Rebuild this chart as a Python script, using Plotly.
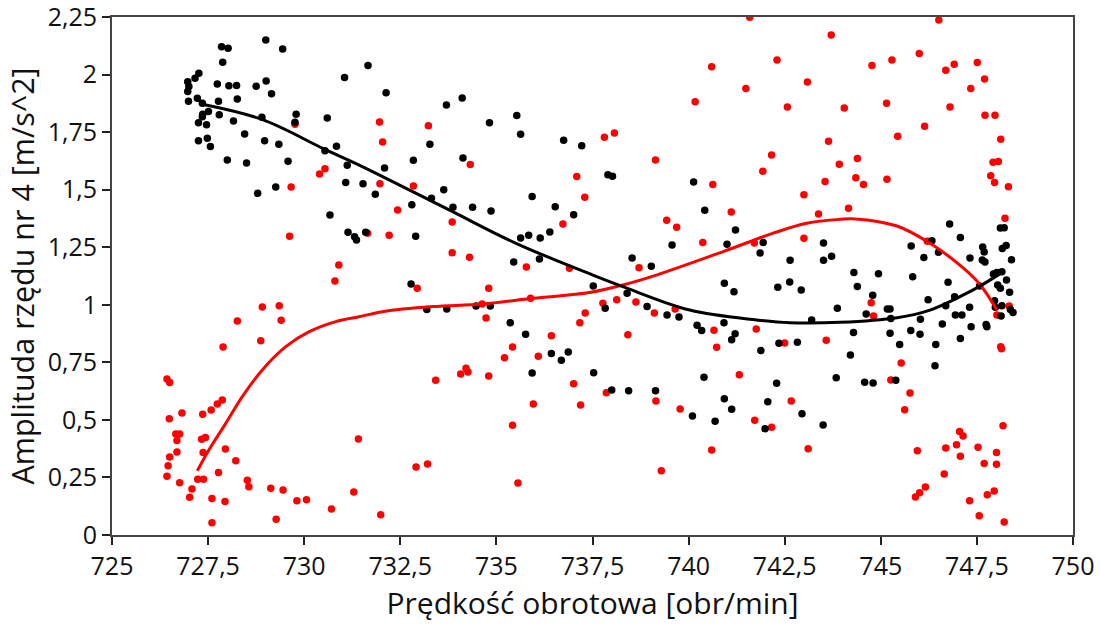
import plotly.graph_objects as go

# punkty pomiarowe - seria czarna
black_x = [
    729.00, 727.85, 728.02, 729.44, 727.88, 727.26, 727.16, 726.97, 727.00, 726.97,
    726.99, 727.22, 727.35, 727.74, 728.04, 728.24, 728.75, 729.01, 729.15, 728.26,
    727.77, 731.05, 727.36, 727.35, 727.25, 727.46, 727.51, 727.79, 728.16, 728.90,
    729.79, 729.76, 730.60, 728.45, 727.25, 727.48, 727.56, 728.97, 729.34, 730.84,
    730.54, 728.00, 728.50, 729.58, 731.12, 731.08, 729.26, 728.79, 730.67, 731.14,
    731.31, 731.36,
    731.66, 732.13, 733.70, 734.11, 734.82, 735.53, 735.63, 736.75, 737.22, 733.27,
    732.84, 734.13, 732.09, 731.53, 731.85, 733.63, 733.31, 732.80, 733.87, 734.38,
    734.86, 735.93, 736.53, 737.01, 731.60, 732.90, 735.63, 735.84, 736.14, 736.39,
    735.45, 736.12,
    737.90, 738.02, 740.13, 740.42, 741.22, 739.57, 741.00, 741.94, 741.86, 743.51,
    738.53, 739.03, 742.64, 743.51, 743.72,
    746.79, 746.33, 747.07, 745.79, 746.12, 746.50, 747.32, 747.65, 747.69, 747.64,
    747.71, 748.11, 748.21, 748.26, 748.16, 748.40,
    732.78, 733.19, 733.71, 734.47, 734.84, 735.36, 735.76, 736.43, 736.69, 736.87,
    735.93, 737.53, 737.52,
    738.40, 737.83, 738.92, 739.44, 739.75, 740.22, 740.34, 740.93, 741.18, 740.92,
    741.21, 741.12, 741.88, 742.32, 742.63, 742.93, 742.35, 742.83, 743.20, 743.87,
    738.00, 738.44, 739.14, 740.40, 740.93, 741.12, 740.10, 740.69, 742.06, 742.29,
    741.99, 742.95, 743.50, 743.84,
    744.30, 744.94, 745.83, 744.39, 744.79, 746.75, 744.62, 745.17, 745.24, 745.26,
    746.23, 746.69, 746.92, 747.31, 746.94, 747.11, 746.03, 746.60, 744.29, 745.24,
    745.78, 746.02, 747.35, 747.74, 747.76, 747.07, 745.49, 746.43, 744.21, 746.41,
    744.58, 744.80, 745.39, 747.93, 748.02, 748.15, 748.27, 748.04, 748.11, 748.35,
    747.96, 747.98, 748.15, 748.13, 748.37, 748.44, 747.57,
]
black_y = [
    2.150, 2.121, 2.114, 2.111, 2.053, 2.006, 1.984, 1.969, 1.948, 1.926,
    1.884, 1.897, 1.875, 1.959, 1.951, 1.953, 1.949, 1.972, 1.917, 1.894,
    1.884, 1.987, 1.828, 1.817, 1.791, 1.782, 1.839, 1.825, 1.798, 1.815,
    1.828, 1.793, 1.811, 1.742, 1.712, 1.723, 1.687, 1.712, 1.697, 1.689,
    1.669, 1.629, 1.616, 1.623, 1.606, 1.531, 1.512, 1.484, 1.390, 1.315,
    1.296, 1.281,
    2.039, 1.921, 1.868, 1.898, 1.791, 1.822, 1.741, 1.715, 1.691, 1.697,
    1.628, 1.638, 1.594, 1.526, 1.480, 1.500, 1.463, 1.435, 1.424, 1.424,
    1.407, 1.470, 1.426, 1.391, 1.315, 1.298, 1.290, 1.302, 1.290, 1.316,
    1.186, 1.199,
    1.565, 1.558, 1.533, 1.411, 1.325, 1.260, 1.263, 1.270, 1.225, 1.268,
    1.203, 1.167, 1.193, 1.193, 1.211,
    1.351, 1.278, 1.292, 1.255, 1.205, 1.228, 1.203, 1.251, 1.229, 1.195,
    1.186, 1.334, 1.335, 1.258, 1.244, 1.196,
    1.090, 0.979, 0.982, 0.995, 0.995, 0.922, 0.872, 0.788, 0.759, 0.795,
    0.704, 0.705, 1.082,
    1.050, 0.985, 0.993, 0.956, 0.947, 0.911, 0.888, 1.093, 1.057, 0.922,
    0.874, 0.848, 0.801, 1.076, 1.099, 1.064, 0.833, 0.837, 0.934, 0.985,
    0.630, 0.627, 0.627, 0.685, 0.592, 0.546, 0.517, 0.494, 0.579, 0.659,
    0.462, 0.527, 0.478, 0.683,
    1.140, 1.135, 1.122, 1.079, 1.041, 1.098, 0.960, 0.982, 0.982, 0.940,
    1.022, 0.996, 1.035, 0.989, 0.956, 0.956, 0.937, 0.917, 0.880, 0.876,
    0.888, 0.872, 0.905, 0.914, 0.905, 0.853, 0.827, 0.827, 0.782, 0.735,
    0.663, 0.660, 0.672, 1.134, 1.140, 1.144, 1.108, 1.086, 1.072, 1.054,
    1.017, 0.989, 0.996, 0.951, 0.980, 0.966, 1.082,
]

# punkty pomiarowe - seria czerwona
red_x = [
    729.76, 730.54, 730.40, 729.66, 729.62, 730.90,
    731.96, 732.04, 733.23, 734.32, 731.97, 732.84, 732.43, 733.85, 732.21, 731.65,
    733.85, 734.30, 735.78, 737.09, 737.30, 736.73, 736.90,
    741.59, 743.71, 740.60, 742.30, 741.49, 743.09, 740.17, 742.57, 737.81, 738.07,
    743.64, 739.14, 742.16, 741.93, 743.92, 743.55, 740.63, 743.00, 741.11, 743.38,
    739.43, 739.69, 740.37, 743.00, 741.71, 738.71,
    746.51, 744.77, 745.29, 746.00, 746.69, 746.91, 747.51, 747.70, 747.34, 744.05,
    745.15, 746.80, 747.71, 747.97, 746.14, 745.44, 748.12, 744.39, 747.92, 748.06,
    744.35, 744.55, 745.16, 747.86, 747.96, 748.32, 744.16, 748.23, 746.21,
    730.80, 728.91, 729.35, 729.40, 728.26, 728.87, 727.89, 726.43, 726.50, 727.87,
    727.74, 727.58, 727.36, 726.49, 726.82, 726.66, 726.76, 726.69, 727.33, 727.43,
    726.69, 727.37, 726.50, 727.95, 728.22, 726.46, 726.43, 727.77, 726.76, 727.23,
    727.38, 727.08, 727.02, 728.52, 728.56, 729.13, 729.45, 727.60, 727.94, 729.81,
    730.06, 730.71, 731.29, 727.60, 729.27, 731.41,
    732.94, 734.80, 734.63, 734.73, 735.89, 735.42, 735.21, 736.43, 736.09, 737.17,
    737.31, 733.42, 734.07, 734.21, 734.26, 734.80, 737.01, 735.96, 737.19, 735.42,
    732.91, 733.21, 731.99, 735.56,
    737.77, 738.13, 738.63, 739.11, 739.65, 738.42, 740.66, 740.73, 741.76, 742.50,
    743.58, 741.32, 737.86, 739.15, 739.78, 742.67, 741.72, 742.16, 740.60, 743.11,
    739.29,
    744.75, 744.81, 745.53, 745.26, 745.76, 745.62, 748.12, 748.14, 748.18, 747.05,
    747.14, 746.97, 746.69, 745.95, 747.53, 747.07, 747.69, 748.01, 748.01, 746.65,
    746.16, 746.01, 745.90, 747.31, 747.77, 747.95, 747.56, 748.21, 748.02, 748.34,
]
red_y = [
    1.784, 1.591, 1.568, 1.512, 1.298, 1.173,
    1.794, 1.707, 1.778, 1.609, 1.526, 1.516, 1.412, 1.360, 1.302, 1.311,
    1.226, 1.206, 1.164, 1.557, 1.467, 1.351, 1.159,
    2.249, 2.172, 2.034, 2.063, 1.939, 1.968, 1.882, 1.859, 1.728, 1.746,
    1.710, 1.629, 1.651, 1.580, 1.610, 1.536, 1.522, 1.478, 1.403, 1.394,
    1.367, 1.337, 1.271, 1.289, 1.268, 1.161,
    2.237, 2.039, 2.063, 2.091, 2.019, 2.045, 2.052, 1.981, 1.939, 1.855,
    1.875, 1.859, 1.823, 1.823, 1.775, 1.732, 1.719, 1.635, 1.619, 1.622,
    1.552, 1.522, 1.545, 1.560, 1.531, 1.513, 1.419, 1.376, 1.276,
    1.103, 0.990, 0.996, 0.933, 0.930, 0.844, 0.817, 0.678, 0.662, 0.586,
    0.569, 0.543, 0.524, 0.505, 0.530, 0.439, 0.439, 0.410, 0.416, 0.424,
    0.361, 0.358, 0.339, 0.374, 0.323, 0.301, 0.255, 0.271, 0.227, 0.242,
    0.242, 0.200, 0.164, 0.238, 0.210, 0.203, 0.195, 0.158, 0.145, 0.149,
    0.153, 0.113, 0.187, 0.053, 0.068, 0.417,
    1.072, 1.072, 1.003, 0.943, 1.028, 0.817, 0.770, 0.866, 0.776, 0.922,
    0.964, 0.672, 0.699, 0.724, 0.708, 0.691, 0.657, 0.569, 0.565, 0.477,
    0.295, 0.308, 0.088, 0.226,
    1.007, 1.022, 1.012, 0.964, 0.982, 0.870, 0.889, 0.815, 0.895, 0.834,
    0.846, 0.696, 0.618, 0.582, 0.547, 0.582, 0.498, 0.468, 0.369, 0.375,
    0.279,
    1.009, 0.951, 0.747, 0.673, 0.617, 0.544, 0.818, 0.809, 0.475, 0.450,
    0.430, 0.392, 0.378, 0.366, 0.381, 0.342, 0.311, 0.358, 0.307, 0.265,
    0.209, 0.184, 0.165, 0.149, 0.175, 0.191, 0.084, 0.056, 0.956, 0.995,
]

# krzywe trendu
black_fit_x = [727.35, 728.90, 730.54, 731.43, 733.77, 735.51, 737.51, 738.29, 740.03,
               741.77, 742.64, 743.94, 745.42, 746.28, 747.15, 747.59, 748.19]
black_fit_y = [1.871, 1.805, 1.675, 1.607, 1.412, 1.267, 1.129, 1.079, 0.977,
               0.934, 0.922, 0.924, 0.944, 0.977, 1.043, 1.082, 1.144]
red_fit_x = [727.22, 727.52, 727.96, 728.39, 728.91, 729.52, 730.13, 730.82, 731.43,
             732.04, 733.34, 734.64, 735.95, 737.42, 738.29, 739.16, 740.90, 742.20,
             743.07, 743.94, 744.33, 745.42, 746.28, 747.15, 747.59, 748.02]
red_fit_y = [0.279, 0.369, 0.485, 0.601, 0.717, 0.818, 0.883, 0.927, 0.948,
             0.970, 0.992, 1.003, 1.028, 1.053, 1.086, 1.129, 1.231, 1.311,
             1.354, 1.371, 1.373, 1.342, 1.267, 1.159, 1.086, 0.977]

FONT = "Open Sans"

fig = go.Figure()
fig.add_trace(go.Scatter(x=red_x, y=red_y, mode="markers",
                         marker=dict(color="#ff0000", size=7.5), showlegend=False))
fig.add_trace(go.Scatter(x=black_x, y=black_y, mode="markers",
                         marker=dict(color="#000000", size=7.5), showlegend=False))
fig.add_trace(go.Scatter(x=red_fit_x, y=red_fit_y, mode="lines", line_shape="spline",
                         line=dict(color="#ff0000", width=3), showlegend=False))
fig.add_trace(go.Scatter(x=black_fit_x, y=black_fit_y, mode="lines", line_shape="spline",
                         line=dict(color="#000000", width=3), showlegend=False))

axis = dict(showline=True, linecolor="#444", linewidth=2, mirror=True, automargin=False,
            ticks="outside", ticklen=8, tickwidth=1.5, tickcolor="#222",
            ticklabeloverflow="allow",
            showgrid=False, zeroline=False, tickfont=dict(family=FONT, size=25, color="#111"))

fig.update_layout(
    width=1100, height=628,
    paper_bgcolor="white", plot_bgcolor="white",
    separators=", ",
    margin=dict(l=112, r=27, t=17, b=93),
    xaxis=dict(range=[725, 750], dtick=2.5, tick0=725,
               title=dict(text="Prędkość obrotowa [obr/min]", font=dict(family=FONT, size=30, color="#111"),
                          standoff=10),
               **axis),
    yaxis=dict(range=[0, 2.25], dtick=0.25, tick0=0,
               title=dict(text="Amplituda rzędu nr 4 [m/s^2]", font=dict(family=FONT, size=30.5, color="#111"),
                          standoff=4),
               **axis),
)

# bez domyslnego marginesu body, zeby wykres zaczynal sie w rogu strony
fig.write_html("out.html", config={"displayModeBar": False},
               post_script="document.body.style.margin='0';")
